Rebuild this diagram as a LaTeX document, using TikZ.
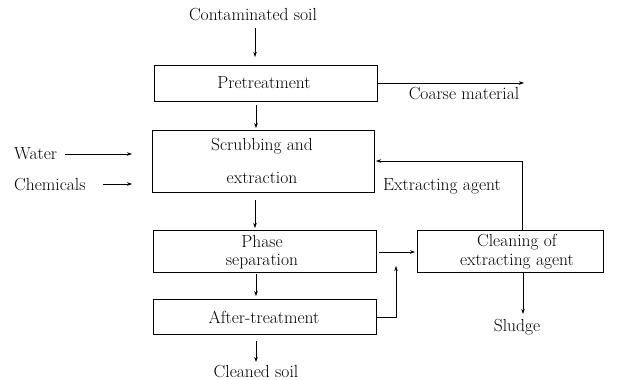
\documentclass[tikz,border=0pt]{standalone}
\usepackage{fontspec}
\usetikzlibrary{arrows.meta}
\begin{document}
\begin{tikzpicture}[x=1pt,y=-1pt,
  box/.style={draw,line width=0.7pt,inner sep=0pt,anchor=center},
  lbl/.style={inner sep=0pt,font=\fontsize{17.5}{20}\selectfont\addfontfeatures{LetterSpace=5}},
  arr/.style={-{Stealth[length=5pt,width=3.5pt]},line width=0.6pt}]
\useasboundingbox (0,0) rectangle (619,380);
% boxes
\node[box,minimum width=223pt,minimum height=36pt] (pre) at (265.5,83) {};
\node[box,minimum width=222pt,minimum height=62pt] (scr) at (263,161) {};
\node[box,minimum width=223pt,minimum height=42pt] (pha) at (264.5,251) {};
\node[box,minimum width=223pt,minimum height=35pt] (aft) at (264.5,316.5) {};
\node[box,minimum width=186pt,minimum height=42pt] (cle) at (510,251) {};
% box texts
\node[lbl] (tpre) at (264,83) {Pretreatment};
\node[lbl] (tscr1) at (262,146) {Scrubbing and};
\node[lbl] (tscr2) at (262,178) {extraction};
\node[lbl] (tpha1) at (262,241) {Phase};
\node[lbl] (tpha2) at (262,262) {separation};
\node[lbl] (taft) at (264,317) {After-treatment};
\node[lbl] (tcle1) at (517,242) {Cleaning of};
\node[lbl] (tcle2) at (517,262) {extracting agent};
% outside texts
\node[lbl] (cont) at (253,15) {Contaminated soil};
\node[lbl,anchor=west] (water) at (14,154) {Water};
\node[lbl,anchor=west] (chem) at (14,185) {Chemicals};
\node[lbl] (coarse) at (464,94) {Coarse material};
\node[lbl] (ext) at (442,186) {Extracting agent};
\node[lbl] (clean) at (256,372) {Cleaned soil};
\node[lbl] (sludge) at (517,327) {Sludge};
% coordinates
\coordinate (c1a) at (255,28);
\coordinate (c1b) at (255,57);
\coordinate (c2a) at (256,105);
\coordinate (c2b) at (256,128);
\coordinate (wa) at (65,154);
\coordinate (wb) at (132,154);
\coordinate (cha) at (103,184);
\coordinate (chb) at (132,184);
\coordinate (coa) at (377,83);
\coordinate (cob) at (524,83);
\coordinate (exa) at (522,230);
\coordinate (exb) at (522,161);
\coordinate (exc) at (376,161);
\coordinate (c3a) at (255,200);
\coordinate (c3b) at (255,228);
\coordinate (c4a) at (256,274);
\coordinate (c4b) at (256,296);
\coordinate (c5a) at (256,341);
\coordinate (c5b) at (256,362);
\coordinate (psa) at (379,252);
\coordinate (psb) at (415,252);
\coordinate (ata) at (376,317);
\coordinate (atb) at (396,317);
\coordinate (atc) at (396,266);
\coordinate (sla) at (523,272);
\coordinate (slb) at (523,314);
% connectors
\draw[arr] (c1a) -- (c1b);
\draw[arr] (c2a) -- (c2b);
\draw[arr] (wa) -- (wb);
\draw[arr] (cha) -- (chb);
\draw[arr] (coa) -- (cob);
\draw[arr] (exa) -- (exb) -- (exc);
\draw[arr] (c3a) -- (c3b);
\draw[arr] (c4a) -- (c4b);
\draw[arr] (c5a) -- (c5b);
\draw[arr] (psa) -- (psb);
\draw[arr] (ata) -- (atb) -- (atc);
\draw[arr] (sla) -- (slb);
\end{tikzpicture}
\end{document}
